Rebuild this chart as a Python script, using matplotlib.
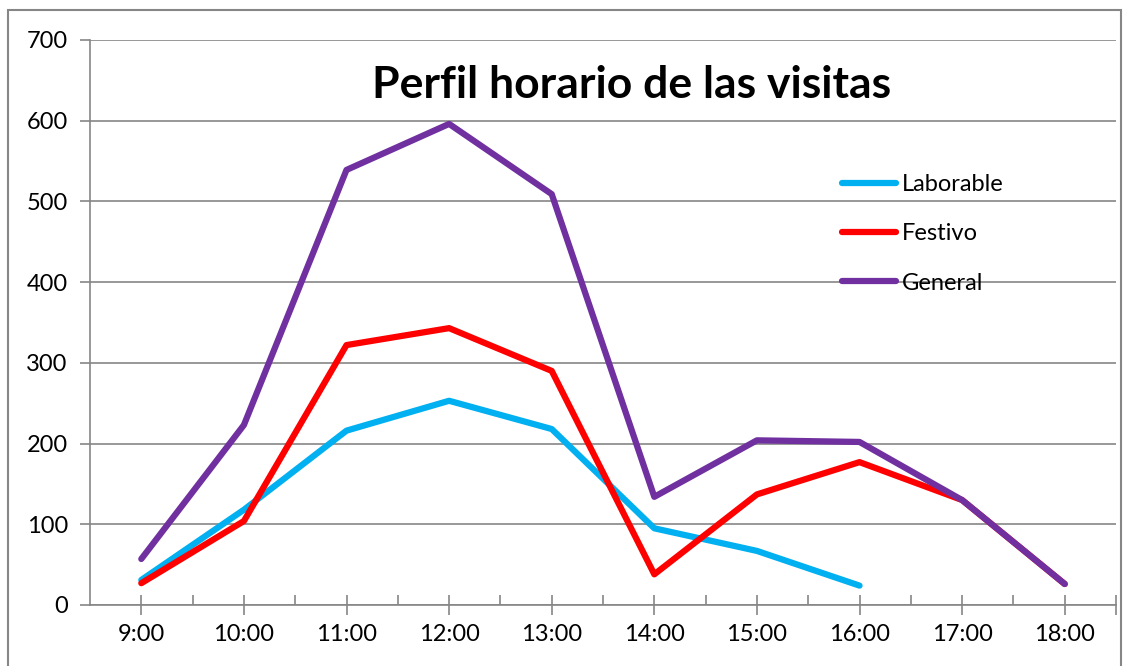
import numpy as np
import matplotlib.pyplot as plt
from matplotlib.ticker import FixedLocator
from matplotlib.patches import Rectangle

horas = ["9:00", "10:00", "11:00", "12:00", "13:00", "14:00", "15:00", "16:00", "17:00", "18:00"]
laborable = [31, 118, 216, 253, 218, 95, 67, 24, None, None]
festivo = [27, 104, 322, 343, 290, 38, 137, 177, 130, 26]
general = [57, 223, 539, 596, 509, 134, 204, 202, 130, 26]

plt.rcParams['font.family'] = ['Lato', 'DejaVu Sans']

fig = plt.figure(figsize=(11.32, 6.66), dpi=100)
ax = fig.add_axes([0.0795, 0.0916, 0.9064, 0.8484])

x = np.arange(len(horas))
lab = np.array([np.nan if v is None else v for v in laborable], dtype=float)

lw = 4.5
ax.plot(x, lab, color='#00B0F0', lw=lw, solid_capstyle='round', solid_joinstyle='round', label='Laborable', zorder=3)
ax.plot(x, festivo, color='#FF0000', lw=lw, solid_capstyle='round', solid_joinstyle='round', label='Festivo', zorder=4)
ax.plot(x, general, color='#7030A0', lw=lw, solid_capstyle='round', solid_joinstyle='round', label='General', zorder=5)

ax.set_xlim(-0.5, len(horas) - 0.5)
ax.set_ylim(0, 700)
ax.set_yticks(range(0, 701, 100))
ax.yaxis.grid(True, color='#868686', lw=1.2)
ax.set_axisbelow(True)

# category ticks cross the axis, half-way ticks point inward
ax.xaxis.set_major_locator(FixedLocator(list(x) + [len(horas) - 0.5]))
ax.set_xticklabels(horas + [''])
ax.xaxis.set_minor_locator(FixedLocator(list(np.arange(-0.5, len(horas) - 1, 1.0) + 1.0)))
ax.tick_params(axis='x', which='major', direction='inout', length=14, width=1.2, color='#868686', pad=7, labelsize=17)
ax.tick_params(axis='x', which='minor', direction='in', length=7, width=1.2, color='#868686')
ax.tick_params(axis='y', direction='out', length=7, width=1.2, color='#868686', pad=9, labelsize=17)

for s in ['top', 'right']:
    ax.spines[s].set_visible(False)
for s in ['left', 'bottom']:
    ax.spines[s].set_color('#868686')
    ax.spines[s].set_linewidth(1.2)

fig.text(0.558, 0.872, 'Perfil horario de las visitas', ha='center', va='center',
         fontsize=32, fontweight='bold')

leg = ax.legend(loc='upper left', bbox_to_anchor=(0.733, 0.763), frameon=False,
                borderpad=0, borderaxespad=0,
                fontsize=17, handlelength=2.3, handletextpad=0.25, labelspacing=1.2)

fig.patches.append(Rectangle((8 / 1132, -0.1), (1121 - 8) / 1132, 1.1 - 10 / 666,
                             transform=fig.transFigure, fill=False, edgecolor='#868686', lw=1.5))

fig.savefig('out.png', dpi=100)
